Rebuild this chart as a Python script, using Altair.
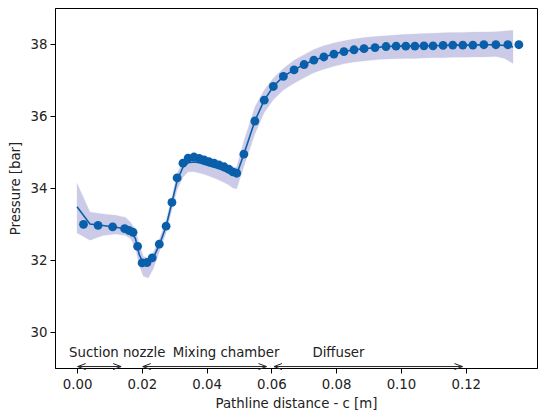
import altair as alt
import pandas as pd

# Marker series (pathline samples)
mx = [0.0020, 0.0065, 0.0110, 0.0147, 0.0160, 0.0173, 0.0187, 0.0201, 0.0216, 0.0232,
      0.0254, 0.0275, 0.0293, 0.0309, 0.0327, 0.0343, 0.0361, 0.0377, 0.0392, 0.0407,
      0.0423, 0.0438, 0.0454, 0.0469, 0.0481, 0.0493, 0.0515, 0.0549, 0.0578, 0.0606,
      0.0637, 0.0670, 0.0701, 0.0731, 0.0762, 0.0793, 0.0824, 0.0855, 0.0886, 0.0920,
      0.0954, 0.0985, 0.1015, 0.1043, 0.1071, 0.1099, 0.1130, 0.1160, 0.1191, 0.1222,
      0.1256, 0.1293, 0.1330, 0.1364]
mp = [32.99, 32.96, 32.92, 32.87, 32.82, 32.77, 32.38, 31.92, 31.93, 32.06,
      32.44, 32.94, 33.60, 34.28, 34.69, 34.83, 34.86, 34.82, 34.78, 34.73,
      34.69, 34.64, 34.59, 34.52, 34.45, 34.41, 34.94, 35.86, 36.44, 36.82,
      37.10, 37.28, 37.43, 37.55, 37.64, 37.72, 37.79, 37.84, 37.87, 37.90,
      37.93, 37.94, 37.94, 37.94, 37.95, 37.95, 37.96, 37.97, 37.97, 37.97,
      37.98, 37.98, 37.98, 37.98]

# Mean line with confidence band
lx = [0.0000, 0.0040, 0.0080, 0.0120, 0.0150, 0.0165, 0.0180, 0.0192, 0.0205, 0.0220,
      0.0235, 0.0255, 0.0275, 0.0293, 0.0309, 0.0327, 0.0343, 0.0361, 0.0377, 0.0392,
      0.0407, 0.0423, 0.0438, 0.0454, 0.0469, 0.0481, 0.0493, 0.0515, 0.0549, 0.0578,
      0.0606, 0.0637, 0.0670, 0.0701, 0.0731, 0.0762, 0.0793, 0.0824, 0.0855, 0.0886,
      0.0920, 0.0954, 0.0985, 0.1015, 0.1043, 0.1071, 0.1099, 0.1130, 0.1160, 0.1191,
      0.1222, 0.1256, 0.1293, 0.1320, 0.1346]
lp = [33.48, 33.00, 32.96, 32.91, 32.86, 32.80, 32.60, 32.15, 31.90, 31.92,
      32.05, 32.44, 32.94, 33.60, 34.20, 34.58, 34.70, 34.72, 34.70, 34.66,
      34.62, 34.58, 34.54, 34.48, 34.42, 34.36, 34.38, 34.94, 35.86, 36.44,
      36.82, 37.10, 37.28, 37.43, 37.55, 37.64, 37.72, 37.79, 37.84, 37.87,
      37.90, 37.93, 37.94, 37.94, 37.94, 37.95, 37.95, 37.96, 37.97, 37.97,
      37.97, 37.98, 37.98, 37.96, 37.92]
lo = [32.75, 32.55, 32.68, 32.72, 32.68, 32.60, 32.35, 31.85, 31.55, 31.50,
      31.75, 32.25, 32.75, 33.40, 33.95, 34.30, 34.45, 34.45, 34.42, 34.38,
      34.33, 34.28, 34.22, 34.15, 34.08, 34.00, 33.98, 34.60, 35.50, 36.10,
      36.45, 36.72, 36.91, 37.06, 37.20, 37.30, 37.38, 37.45, 37.50, 37.53,
      37.56, 37.58, 37.59, 37.60, 37.60, 37.61, 37.62, 37.62, 37.63, 37.63,
      37.64, 37.64, 37.65, 37.60, 37.46]
hi = [34.13, 33.33, 33.28, 33.24, 33.18, 33.05, 32.85, 32.45, 32.10, 32.05,
      32.20, 32.60, 33.10, 33.75, 34.40, 34.75, 34.86, 34.88, 34.85, 34.82,
      34.78, 34.74, 34.70, 34.65, 34.60, 34.55, 34.58, 35.30, 36.25, 36.72,
      37.05, 37.32, 37.55, 37.70, 37.85, 37.95, 38.03, 38.09, 38.14, 38.18,
      38.21, 38.23, 38.25, 38.27, 38.28, 38.29, 38.30, 38.31, 38.32, 38.32,
      38.33, 38.33, 38.34, 38.36, 38.38]

# Region annotations
regions = ["Suction nozzle", "Mixing chamber", "Diffuser"]
reg_start = [0.0002, 0.0203, 0.0608]
reg_end = [0.0136, 0.0585, 0.1190]
reg_label_x = [0.0124, 0.0460, 0.0807]
arrow_y = 29.04
label_y = 29.43

BLUE = "#0a5fab"
FONT = "DejaVu Sans"

xs = alt.Scale(domain=[-0.0068, 0.142], nice=False, zero=False)
ys = alt.Scale(domain=[29.0, 39.0], nice=False, zero=False)

xaxis = alt.Axis(values=[0.0, 0.02, 0.04, 0.06, 0.08, 0.10, 0.12], format=".2f",
                 title="Pathline distance - c [m]", grid=False)
yaxis = alt.Axis(values=[30, 32, 34, 36, 38], title="Pressure [bar]", grid=False)

line_df = pd.DataFrame({"x": lx, "p": lp, "lo": lo, "hi": hi})
mark_df = pd.DataFrame({"x": mx, "p": mp})
reg_df = pd.DataFrame({"name": regions, "x0": reg_start, "x1": reg_end,
                       "lx": reg_label_x, "y": [arrow_y] * 3, "ly": [label_y] * 3})
heads_df = pd.DataFrame({
    "x": reg_start + reg_end,
    "y": [arrow_y] * 6,
    "side": ["L"] * 3 + ["R"] * 3,
})

band = alt.Chart(line_df).mark_area(
    color="#00008b", opacity=0.2, stroke="#00008b", strokeOpacity=0.25, strokeWidth=1
).encode(
    x=alt.X("x:Q", scale=xs, axis=xaxis),
    y=alt.Y("lo:Q", scale=ys, axis=yaxis),
    y2="hi:Q",
)

line = alt.Chart(line_df).mark_line(color=BLUE, strokeWidth=1.6).encode(
    x=alt.X("x:Q", scale=xs), y=alt.Y("p:Q", scale=ys)
)

pts = alt.Chart(mark_df).mark_circle(size=78, color=BLUE, opacity=1).encode(
    x=alt.X("x:Q", scale=xs), y=alt.Y("p:Q", scale=ys)
)

rules = alt.Chart(reg_df).mark_rule(color="#222222", strokeWidth=1).encode(
    x=alt.X("x0:Q", scale=xs), x2="x1:Q", y=alt.Y("y:Q", scale=ys)
)

left_heads = alt.Chart(heads_df).transform_filter(alt.datum.side == "L").mark_point(
    shape="M0,0L2,-0.75M0,0L2,0.75", size=64, filled=False, stroke="#222222",
    strokeWidth=1, opacity=1
).encode(x=alt.X("x:Q", scale=xs), y=alt.Y("y:Q", scale=ys))

right_heads = alt.Chart(heads_df).transform_filter(alt.datum.side == "R").mark_point(
    shape="M0,0L-2,-0.75M0,0L-2,0.75", size=64, filled=False, stroke="#222222",
    strokeWidth=1, opacity=1
).encode(x=alt.X("x:Q", scale=xs), y=alt.Y("y:Q", scale=ys))

labels = alt.Chart(reg_df).mark_text(
    font=FONT, fontSize=13.3, color="#222222", align="center", baseline="middle"
).encode(x=alt.X("lx:Q", scale=xs), y=alt.Y("ly:Q", scale=ys), text="name:N")

chart = alt.layer(band, line, pts, rules, left_heads, right_heads, labels).properties(
    width=482, height=360,
    autosize=alt.AutoSizeParams(type="none"),
    padding={"left": 55, "top": 8, "right": 1, "bottom": 48},
).configure_view(
    stroke="black", strokeWidth=1
).configure_axis(
    labelFont=FONT, titleFont=FONT, labelFontSize=13.3, titleFontSize=13.3,
    labelColor="#222222", titleColor="#222222", titleFontWeight="normal",
    domainColor="black", tickColor="black", tickSize=5, domainWidth=1, tickWidth=1,
    labelPadding=3,
).configure_axisX(titlePadding=6, labelPadding=4).configure_axisY(titlePadding=8)

chart.save("out.html", embed_options={"renderer": "svg", "actions": False})
